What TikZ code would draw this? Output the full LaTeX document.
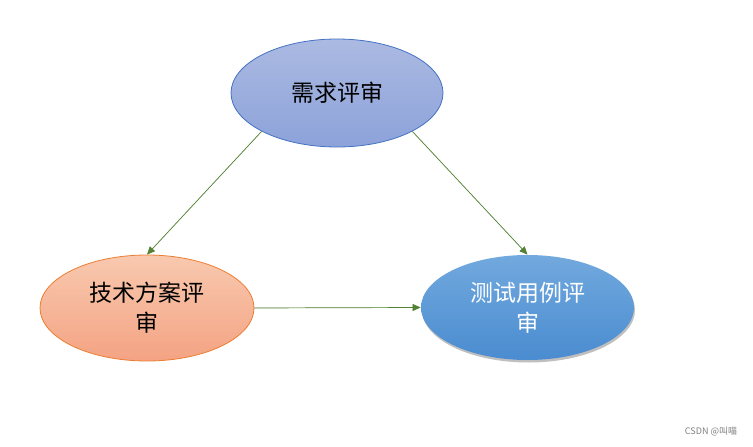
\documentclass[tikz,border=0pt]{standalone}
\usepackage{fontspec}
\newfontfamily\cjk{Noto Sans CJK SC}
\usetikzlibrary{shapes.geometric,arrows.meta,shadows}
\definecolor{arrowgreen}{HTML}{548235}
\definecolor{topA}{HTML}{ABBAE2}
\definecolor{topB}{HTML}{8CA2D9}
\definecolor{topBorder}{HTML}{4472C4}
\definecolor{orA}{HTML}{F8C9AF}
\definecolor{orB}{HTML}{F4A383}
\definecolor{orBorder}{HTML}{ED7D31}
\definecolor{blA}{HTML}{72A9DE}
\definecolor{blB}{HTML}{4A8CD0}
\tikzset{
  bubble/.style={ellipse, inner sep=0pt, align=center,
    font=\cjk\fontsize{23}{30}\selectfont, line width=0.8pt},
  conn/.style={draw=arrowgreen, line width=0.7pt,
    -{Triangle[length=8pt,width=7pt]}, fill=arrowgreen}
}
\begin{document}
\begin{tikzpicture}[x=1pt,y=-1pt]
\useasboundingbox[fill=white] (0,0) rectangle (753,447);
\node[bubble, minimum width=212pt, minimum height=108pt,
  draw=topBorder, top color=topA, bottom color=topB] (req) at (337,93) {需求评审};
\node[bubble, minimum width=214pt, minimum height=106pt,
  draw=orBorder, top color=orA, bottom color=orB] (tech) at (147,308) {技术方案评\\审};
\node[bubble, minimum width=213pt, minimum height=105pt, text=white,
  top color=blA, bottom color=blB,
  drop shadow={shadow xshift=1pt, shadow yshift=-2.5pt, fill=black, opacity=0.25}]
  (test) at (527.5,307.5) {测试用例评\\审};
\draw[conn] (req.207) -- (tech.north);
\draw[conn] (req.333) -- (test.north);
\draw[conn] (tech.east) -- (test.west);
\node[font=\cjk\fontsize{9}{11}\selectfont, text=gray, inner sep=0pt] (wm) at (711,432) {CSDN @叫喵};
\end{tikzpicture}
\end{document}
